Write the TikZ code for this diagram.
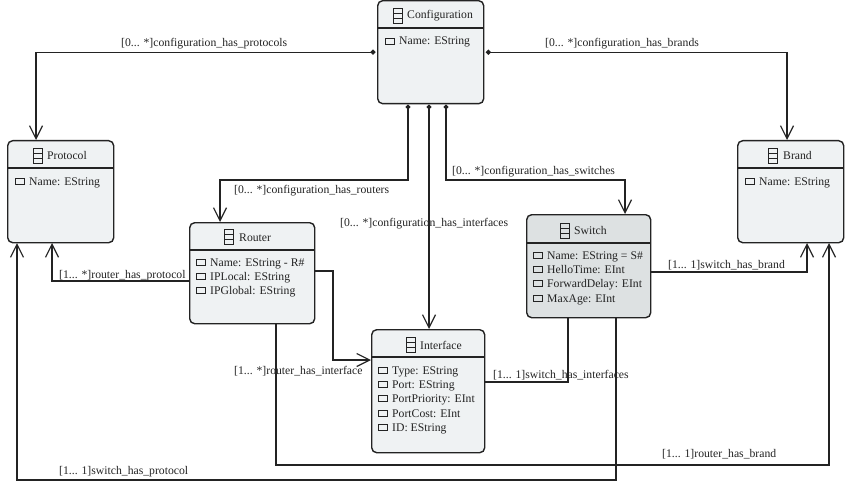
\documentclass[tikz,border=0pt]{standalone}
\usepackage{fontspec}
\setmainfont{Liberation Serif}
\usetikzlibrary{arrows.meta}
\definecolor{boxfill}{HTML}{EFF2F3}
\definecolor{boxgray}{HTML}{DDE1E2}
\definecolor{ink}{HTML}{232323}
\tikzset{
	classbox/.style={draw=ink, line width=1.4pt, rounded corners=5pt, anchor=north west, inner sep=0pt},
	txt/.style={anchor=west, inner sep=0pt, text height=8pt, text depth=0pt, text=ink, font=\fontsize{11.7}{13}\selectfont},
	link/.style={draw=ink, line width=1.15pt, -{Straight Barb[length=13pt,width=13pt,line width=1.15pt]}},
	plainlink/.style={draw=ink, line width=1.15pt},
	cfglink/.style={link, {Circle[length=5pt]}-{Straight Barb[length=13pt,width=13pt,line width=1.15pt]}, shorten <=1.5pt},
}
% one class icon, three stacked cells
\def\classicon(#1,#2){\draw[ink, line width=0.8pt] (#1, #2) rectangle ++(9, 15);
	\draw[ink, line width=0.8pt] (#1, #2+5) -- ++(9, 0);
	\draw[ink, line width=0.8pt] (#1, #2+10) -- ++(9, 0);}
% one attribute row: icon, then text
\def\attr[#1](#2,#3)#4{\draw[ink, line width=0.8pt] (#2, #3-3) rectangle ++(9, 6);
	\node[txt] (#1) at (#2+14, #3) {#4};}
\begin{document}
\begin{tikzpicture}[x=1pt, y=-1pt]
	\useasboundingbox (0, 0) rectangle (850, 481);

	%%%%% classes %%%%%
	\node[classbox, fill=boxfill, minimum width=106pt, minimum height=103pt] (cfg) at (377, 0) {};
	\node[classbox, fill=boxfill, minimum width=106pt, minimum height=102pt] (protocol) at (7, 140) {};
	\node[classbox, fill=boxfill, minimum width=106pt, minimum height=102pt] (brand) at (737, 140) {};
	\node[classbox, fill=boxfill, minimum width=125pt, minimum height=101pt] (router) at (189, 222) {};
	\node[classbox, fill=boxgray, minimum width=124pt, minimum height=103pt] (switch) at (526, 214) {};
	\node[classbox, fill=boxfill, minimum width=113pt, minimum height=123pt] (interface) at (371, 329) {};

	\draw[ink, line width=1.1pt] (cfg.west |- 0, 28) -- (cfg.east |- 0, 28);
	\draw[ink, line width=1.1pt] (protocol.west |- 0, 168) -- (protocol.east |- 0, 168);
	\draw[ink, line width=1.1pt] (brand.west |- 0, 168) -- (brand.east |- 0, 168);
	\draw[ink, line width=1.1pt] (router.west |- 0, 250) -- (router.east |- 0, 250);
	\draw[ink, line width=1.1pt] (switch.west |- 0, 243) -- (switch.east |- 0, 243);
	\draw[ink, line width=1.1pt] (interface.west |- 0, 357) -- (interface.east |- 0, 357);

	\classicon(393, 8)
	\node[txt] (cfgname) at (407, 15) {Configuration};
	\attr[cfgattr](385, 41){Name: EString}

	\classicon(33, 148)
	\node[txt] (protocolname) at (47, 156) {Protocol};
	\attr[protocolattr](15, 181){Name: EString}

	\classicon(768, 148)
	\node[txt] (brandname) at (783, 156) {Brand};
	\attr[brandattr](745, 181){Name: EString}

	\classicon(224, 229)
	\node[txt] (routername) at (239, 237) {Router};
	\attr[routera](196, 262){Name: EString - R\#}
	\attr[routerb](196, 276){IPLocal: EString}
	\attr[routerc](196, 290){IPGlobal: EString}

	\classicon(560, 223)
	\node[txt] (switchname) at (574, 230) {Switch};
	\attr[switcha](533, 255){Name: EString = S\#}
	\attr[switchb](533, 269){HelloTime: EInt}
	\attr[switchc](533, 283){ForwardDelay: EInt}
	\attr[switchd](533, 298){MaxAge: EInt}

	\classicon(406, 337)
	\node[txt] (interfacename) at (420, 345) {Interface};
	\attr[interfacea](378, 370){Type: EString}
	\attr[interfaceb](378, 384){Port: EString}
	\attr[interfacec](378, 398){PortPriority: EInt}
	\attr[interfaced](378, 413){PortCost: EInt}
	\attr[interfacee](378, 427){ID: EString}

	%%%%% connector ends %%%%%
	\coordinate (protocoltop) at (36, 140);
	\coordinate (protocolbotl) at (17, 243);
	\coordinate (protocolbotr) at (52, 243);
	\coordinate (brandtop) at (787, 140);
	\coordinate (brandbotl) at (807, 243);
	\coordinate (brandbotr) at (829, 243);
	\coordinate (cfgbota) at (408, 103);
	\coordinate (cfgbotb) at (429, 103);
	\coordinate (cfgbotc) at (446, 103);
	\coordinate (routertop) at (220, 222);
	\coordinate (routerright) at (314, 271);
	\coordinate (routerleft) at (189, 281);
	\coordinate (routerbot) at (276, 323);
	\coordinate (switchtop) at (625, 214);
	\coordinate (switchright) at (650, 272);
	\coordinate (switchbota) at (568, 317);
	\coordinate (switchbotb) at (616, 317);
	\coordinate (interfacetop) at (429, 329);
	\coordinate (interfaceleft) at (371, 360);
	\coordinate (interfaceright) at (484, 382);

	%%%%% connectors %%%%%
	\draw[cfglink] (cfg.west) -| (protocoltop);
	\draw[cfglink] (cfg.east) -| (brandtop);
	\draw[cfglink] (cfgbota) -- ++(0, 77) -| (routertop);
	\draw[cfglink] (cfgbotb) -- (interfacetop);
	\draw[cfglink] (cfgbotc) -- ++(0, 77) -| (switchtop);
	\draw[link] (routerleft) -| (protocolbotr);
	\draw[link] (routerright) -- ++(19, 0) |- (interfaceleft);
	\draw[link] (routerbot) -- ++(0, 142) -| (brandbotr);
	\draw[link] (switchright) -| (brandbotl);
	\draw[link] (switchbotb) -- ++(0, 163) -| (protocolbotl);
	\draw[plainlink] (switchbota) |- (interfaceright);

	%%%%% labels %%%%%
	\node[txt] (lblprotocols) at (121, 43) {[0... *]configuration\_has\_protocols};
	\node[txt] (lblbrands) at (545, 43) {[0... *]configuration\_has\_brands};
	\node[txt] (lblrouters) at (234, 189) {[0... *]configuration\_has\_routers};
	\node[txt] (lblswitches) at (452, 171) {[0... *]configuration\_has\_switches};
	\node[txt] (lblinterfaces) at (340, 222) {[0... *]configuration\_has\_interfaces};
	\node[txt] (lblrouterprotocol) at (59, 274) {[1... *]router\_has\_protocol};
	\node[txt] (lblrouterinterface) at (234, 370) {[1... *]router\_has\_interface};
	\node[txt] (lblswitchinterface) at (493, 374) {[1... 1]switch\_has\_interfaces};
	\node[txt] (lblswitchbrand) at (668, 264) {[1... 1]switch\_has\_brand};
	\node[txt] (lblrouterbrand) at (662, 453) {[1... 1]router\_has\_brand};
	\node[txt] (lblswitchprotocol) at (59, 470) {[1... 1]switch\_has\_protocol};
\end{tikzpicture}
\end{document}
